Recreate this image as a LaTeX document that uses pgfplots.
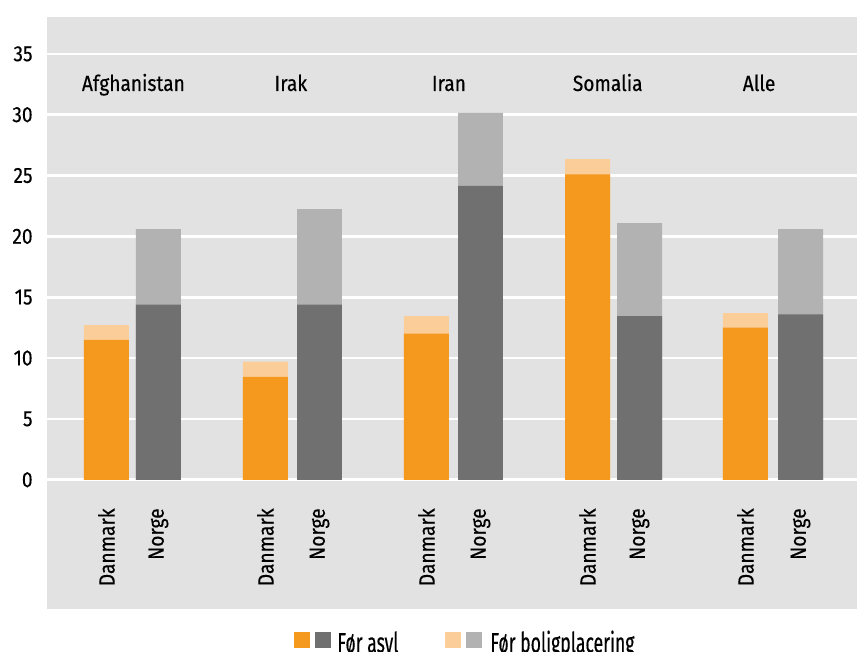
\documentclass[border=0pt]{standalone}
\usepackage{fontspec}
\setmainfont{Fira Sans}[FakeStretch=0.87, FakeBold=0.3]
\newfontfamily\legfont{Fira Sans}[FakeStretch=0.63, FakeBold=0.3]
\usepackage{pgfplots}
\pgfplotsset{compat=1.18}
\definecolor{orA}{HTML}{F4991E}
\definecolor{orB}{HTML}{FBCD98}
\definecolor{grA}{HTML}{707070}
\definecolor{grB}{HTML}{B2B2B2}
\definecolor{bgpanel}{HTML}{E2E2E2}
\begin{document}
\begin{tikzpicture}
\begin{axis}[
  name=ax,
  scale only axis,
  width=405pt, height=296pt,
  xmin=-0.534, xmax=4.528,
  ymin=-10.62, ymax=38.03,
  ytick={0,5,...,35},
  xtick={-0.1625,0.1625,0.831,1.169,1.8375,2.175,2.844,3.169,3.831,4.175},
  xticklabels={Danmark,Norge,Danmark,Norge,Danmark,Norge,Danmark,Norge,Danmark,Norge},
  axis line style={draw=none},
  major tick length=0pt,
  ymajorgrids,
  major grid style={white, line width=1.3pt},
  axis background/.style={fill=bgpanel},
  font=\fontsize{11}{13}\selectfont,
  /pgf/number format/assume math mode=true,
  yticklabel style={anchor=east, inner sep=0pt, xshift=-7pt},
  xticklabel style={rotate=90, anchor=east, inner sep=0pt},
  xticklabel shift=-50.5pt,
]
% Danmark: foer boligplacering (total), then foer asyl
\addplot[ybar, bar width=0.281, bar shift=0pt, fill=orB, draw=none] coordinates {
  (-0.1625,12.7) (0.831,9.7) (1.8375,13.45) (2.844,26.35) (3.831,13.7)};
\addplot[ybar, bar width=0.281, bar shift=0pt, fill=orA, draw=none] coordinates {
  (-0.1625,11.5) (0.831,8.45) (1.8375,12.0) (2.844,25.1) (3.831,12.5)};
% Norge
\addplot[ybar, bar width=0.281, bar shift=0pt, fill=grB, draw=none] coordinates {
  (0.1625,20.6) (1.169,22.25) (2.175,30.15) (3.169,21.1) (4.175,20.6)};
\addplot[ybar, bar width=0.281, bar shift=0pt, fill=grA, draw=none] coordinates {
  (0.1625,14.4) (1.169,14.4) (2.175,24.15) (3.169,13.45) (4.175,13.6)};

\node[anchor=base] at (axis cs:0.006,31.95) {Afghanistan};
\node[anchor=base] at (axis cs:0.99,31.95) {Irak};
\node[anchor=base] at (axis cs:1.978,31.95) {Iran};
\node[anchor=base] at (axis cs:2.97,31.95) {Somalia};
\node[anchor=base] at (axis cs:3.916,31.95) {Alle};
\end{axis}
% legend
\begin{scope}[shift={(ax.south west)}]
  \fill[orA] (123.5pt,-19.65pt) rectangle (131.5pt,-11.65pt);
  \fill[grA] (134pt,-19.65pt) rectangle (142pt,-11.65pt);
  \node[anchor=base west, inner sep=0pt] at (145pt,-21.7pt) {\legfont\fontsize{14}{16}\selectfont Før asyl};
  \fill[orB] (199pt,-19.65pt) rectangle (207pt,-11.65pt);
  \fill[grB] (209.5pt,-19.65pt) rectangle (217.5pt,-11.65pt);
  \node[anchor=base west, inner sep=0pt] at (221.5pt,-21.7pt) {\legfont\fontsize{14}{16}\selectfont Før boligplacering};
\end{scope}
\pgfresetboundingbox
\path[use as bounding box] ([xshift=-23.5pt,yshift=-21.5pt]ax.south west) rectangle ([yshift=8.5pt]ax.north east);
\end{tikzpicture}
\end{document}
